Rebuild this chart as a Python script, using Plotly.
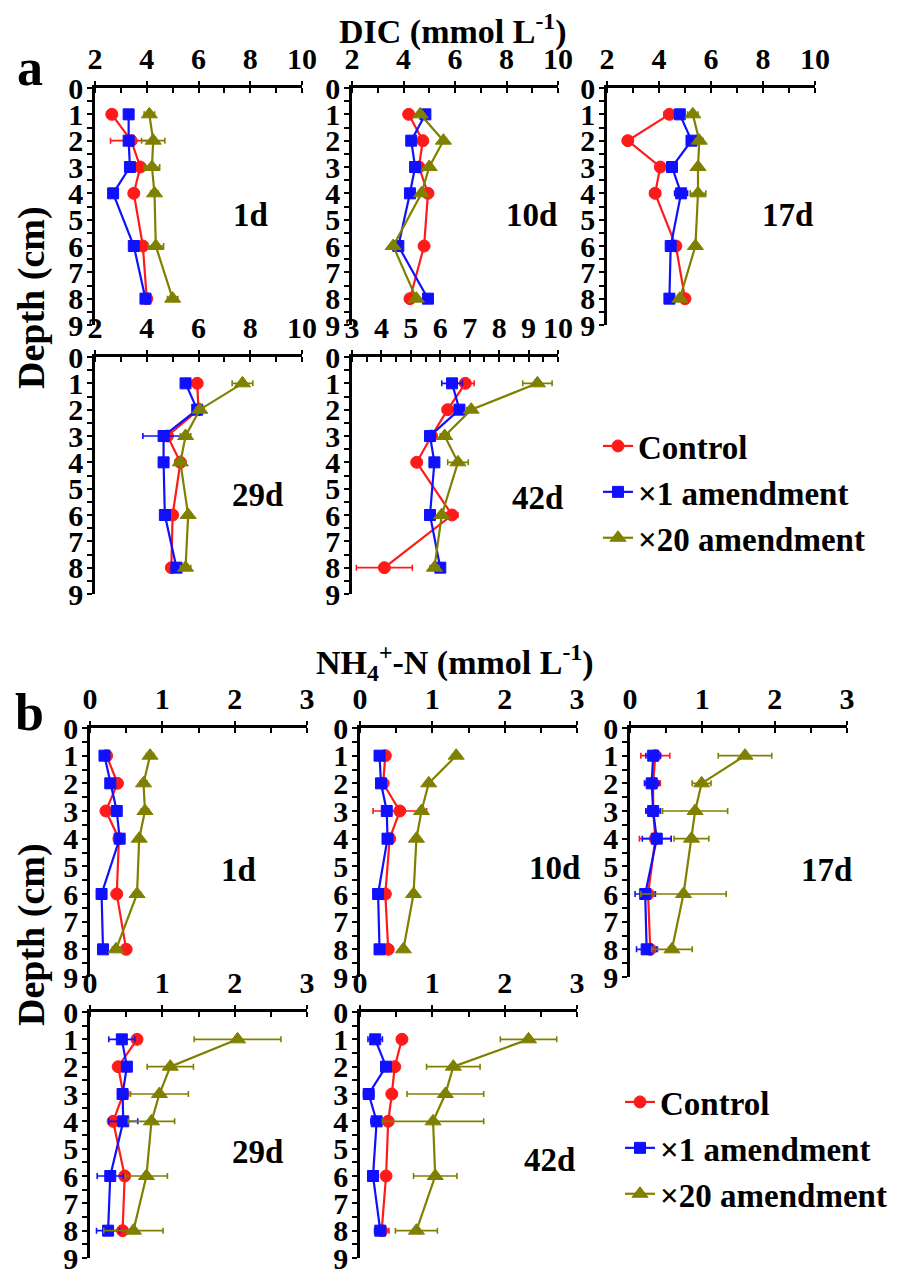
import plotly.graph_objects as go

# ---------------- data ----------------
depths = [1, 2, 3, 4, 6, 8]
days = ["1d", "10d", "17d", "29d", "42d"]
series_names = ["Control", "×1 amendment", "×20 amendment"]

# DIC (mmol L-1), rows = days
dic_control = [
    [2.65, 3.4, 3.75, 3.5, 3.85, 4.0],
    [4.2, 4.75, 4.6, 4.95, 4.8, 4.25],
    [4.4, 2.8, 4.05, 3.85, 4.65, 5.0],
    [5.95, 6.0, 4.8, 5.3, 5.0, 4.95],
    [6.85, 6.25, 5.7, 5.2, 6.4, 4.1],
]
dic_control_err = [
    [0.15, 0.8, 0.2, 0.15, 0.15, 0.1],
    [0.1, 0.1, 0.1, 0.1, 0.1, 0.1],
    [0.2, 0.1, 0.1, 0.2, 0.15, 0.15],
    [0.15, 0.1, 0.1, 0.1, 0.1, 0.1],
    [0.3, 0.15, 0.1, 0.15, 0.2, 0.95],
]
dic_x1 = [
    [3.3, 3.3, 3.35, 2.7, 3.5, 3.95],
    [4.85, 4.3, 4.45, 4.25, 3.8, 4.95],
    [4.8, 5.25, 4.5, 4.85, 4.45, 4.4],
    [5.5, 5.95, 4.65, 4.65, 4.7, 5.15],
    [6.4, 6.65, 5.65, 5.8, 5.65, 6.0],
]
dic_x1_err = [
    [0.1, 0.1, 0.1, 0.1, 0.1, 0.1],
    [0.1, 0.1, 0.1, 0.1, 0.1, 0.1],
    [0.15, 0.1, 0.1, 0.25, 0.1, 0.1],
    [0.15, 0.1, 0.8, 0.1, 0.1, 0.2],
    [0.35, 0.15, 0.1, 0.15, 0.1, 0.1],
]
dic_x20 = [
    [4.1, 4.25, 4.2, 4.3, 4.35, 5.0],
    [4.65, 5.55, 5.0, 4.7, 3.6, 4.5],
    [5.3, 5.55, 5.5, 5.5, 5.4, 4.8],
    [7.7, 6.05, 5.5, 5.3, 5.6, 5.5],
    [9.3, 7.05, 6.15, 6.6, 6.05, 5.8],
]
dic_x20_err = [
    [0.2, 0.45, 0.3, 0.15, 0.3, 0.2],
    [0.1, 0.1, 0.1, 0.1, 0.1, 0.1],
    [0.2, 0.15, 0.1, 0.3, 0.1, 0.1],
    [0.4, 0.15, 0.2, 0.2, 0.1, 0.2],
    [0.5, 0.15, 0.15, 0.35, 0.1, 0.15],
]

# NH4+-N (mmol L-1), rows = days
nh4_control = [
    [0.23, 0.38, 0.22, 0.4, 0.37, 0.5],
    [0.35, 0.32, 0.55, 0.41, 0.35, 0.39],
    [0.35, 0.32, 0.32, 0.35, 0.25, 0.28],
    [0.65, 0.39, 0.46, 0.32, 0.48, 0.45],
    [0.58, 0.48, 0.44, 0.39, 0.36, 0.3],
]
nh4_control_err = [
    [0.03, 0.03, 0.03, 0.03, 0.03, 0.03],
    [0.04, 0.03, 0.37, 0.04, 0.04, 0.04],
    [0.2, 0.1, 0.1, 0.22, 0.1, 0.1],
    [0.05, 0.05, 0.04, 0.06, 0.05, 0.05],
    [0.06, 0.05, 0.06, 0.06, 0.05, 0.1],
]
nh4_x1 = [
    [0.2, 0.28, 0.37, 0.41, 0.16, 0.18],
    [0.27, 0.29, 0.37, 0.38, 0.25, 0.27],
    [0.32, 0.3, 0.32, 0.37, 0.21, 0.23],
    [0.44, 0.51, 0.45, 0.46, 0.28, 0.25],
    [0.21, 0.36, 0.12, 0.23, 0.18, 0.28],
]
nh4_x1_err = [
    [0.04, 0.03, 0.04, 0.05, 0.06, 0.05],
    [0.03, 0.03, 0.03, 0.03, 0.03, 0.03],
    [0.1, 0.1, 0.1, 0.2, 0.14, 0.14],
    [0.18, 0.05, 0.05, 0.2, 0.18, 0.16],
    [0.1, 0.06, 0.07, 0.08, 0.06, 0.07],
]
nh4_x20 = [
    [0.83, 0.74, 0.76, 0.68, 0.65, 0.36],
    [1.33, 0.95, 0.85, 0.78, 0.74, 0.6],
    [1.59, 0.99, 0.9, 0.85, 0.74, 0.58],
    [2.04, 1.11, 0.96, 0.85, 0.78, 0.6],
    [2.33, 1.29, 1.18, 1.01, 1.04, 0.78],
]
nh4_x20_err = [
    [0.05, 0.05, 0.05, 0.04, 0.05, 0.05],
    [0.03, 0.03, 0.03, 0.03, 0.03, 0.03],
    [0.37, 0.13, 0.45, 0.24, 0.59, 0.28],
    [0.6, 0.32, 0.4, 0.32, 0.29, 0.41],
    [0.39, 0.37, 0.53, 0.7, 0.3, 0.29],
]

dic_xticks = [2, 4, 6, 8, 10]
dic_xticks_42d = [3, 4, 5, 6, 7, 8, 9, 10]
nh4_xticks = [0, 1, 2, 3]
depth_ticks = list(range(10))

# ---------------- styling / layout ----------------
W, H = 924, 1277
FONT = "Liberation Serif, Times New Roman, serif"
colors = ["#ff1a1a", "#1010ff", "#808000"]
symbols = ["circle", "square", "triangle-up"]
msizes = [12, 11, 14]

a_boxes = [(95, 302, 88, 325), (352, 558, 88, 325), (607, 815, 88, 325),
           (95, 302, 357, 594), (352, 558, 357, 594)]
b_boxes = [(90, 307, 728, 977), (360, 577, 728, 977), (630, 847, 728, 977),
           (90, 307, 1012, 1258), (360, 577, 1012, 1258)]
a_labels = [(250, 215), (531, 215), (787, 215), (257, 495), (537, 498)]
b_labels = [(238, 870), (554, 868), (826, 870), (257, 1152), (549, 1160)]

fig = go.Figure()
layout = {}
annotations = []

tickfont = dict(family=FONT, size=30, color="black", weight="bold")


def add_panel(k, box, xr, xticks, xminor, vals, errs, legend_name, show_leg):
    x0, x1, y0, y1 = box
    xa = "xaxis" if k == 1 else f"xaxis{k}"
    ya = "yaxis" if k == 1 else f"yaxis{k}"
    xref = "x" if k == 1 else f"x{k}"
    yref = "y" if k == 1 else f"y{k}"
    layout[xa] = dict(
        domain=[x0 / W, x1 / W], anchor=yref, side="top", range=xr,
        tickmode="array", tickvals=xticks, showline=True, linecolor="black",
        linewidth=2.5, ticks="outside", ticklen=4, tickwidth=2, tickcolor="black",
        minor=dict(dtick=xminor, tick0=0, ticks="inside", ticklen=5, tickwidth=2,
                   tickcolor="black", showgrid=False),
        showgrid=False, zeroline=False, tickfont=tickfont, fixedrange=True,
        automargin=False, ticklabeloverflow="allow",
    )
    layout[ya] = dict(
        domain=[1 - y1 / H, 1 - y0 / H], anchor=xref, range=[9, 0],
        tickmode="array", tickvals=depth_ticks, showline=True, linecolor="black",
        linewidth=2.5, ticks="outside", ticklen=3, tickwidth=2, tickcolor="black",
        minor=dict(dtick=0.5, tick0=0, ticks="outside", ticklen=5, tickwidth=2,
                   tickcolor="black", showgrid=False),
        showgrid=False, zeroline=False, tickfont=tickfont, fixedrange=True,
        automargin=False, ticklabeloverflow="allow",
    )
    for s in range(3):
        fig.add_trace(go.Scatter(
            x=vals[s], y=depths, xaxis=xref, yaxis=yref,
            mode="lines+markers", name=series_names[s],
            line=dict(color=colors[s], width=2.2),
            marker=dict(symbol=symbols[s], size=msizes[s], color=colors[s],
                        line=dict(color=colors[s], width=1)),
            error_x=dict(type="data", array=errs[s], color=colors[s],
                         thickness=1.6, width=3),
            legend=legend_name, showlegend=show_leg,
        ))


k = 1
for d in range(5):
    xr = [3, 10] if d == 4 else [2, 10]
    xt = dic_xticks_42d if d == 4 else dic_xticks
    xm = 0.5 if d == 4 else 1
    add_panel(k, a_boxes[d], xr, xt, xm,
              [dic_control[d], dic_x1[d], dic_x20[d]],
              [dic_control_err[d], dic_x1_err[d], dic_x20_err[d]],
              "legend", d == 0)
    k += 1

for d in range(5):
    add_panel(k, b_boxes[d], [0, 3], nh4_xticks, 0.5,
              [nh4_control[d], nh4_x1[d], nh4_x20[d]],
              [nh4_control_err[d], nh4_x1_err[d], nh4_x20_err[d]],
              "legend2", d == 0)
    k += 1


def pann(text, px, py, size, angle=0):
    annotations.append(dict(text=text, x=px / W, y=1 - py / H, xref="paper",
                            yref="paper", showarrow=False, textangle=angle,
                            xanchor="center", yanchor="middle",
                            font=dict(family=FONT, size=size, color="black")))


for d in range(5):
    pann(f"<b>{days[d]}</b>", a_labels[d][0], a_labels[d][1], 33)
    pann(f"<b>{days[d]}</b>", b_labels[d][0], b_labels[d][1], 33)

pann("<b>DIC (mmol L<sup>-1</sup>)</b>", 453, 30, 34)
pann("<b>NH<sub>4</sub><sup>+</sup>-N (mmol L<sup>-1</sup>)</b>", 455, 662, 34)
pann("<b>a</b>", 30, 68, 52)
pann("<b>b</b>", 29, 712, 52)
pann("<b>Depth (cm)</b>", 31, 298, 38, -90)
pann("<b>Depth (cm)</b>", 31, 935, 38, -90)

legfont = dict(family=FONT, size=33, color="black", weight="bold")
fig.update_layout(
    template="none",
    width=W, height=H, margin=dict(l=0, r=0, t=0, b=0, autoexpand=False),
    paper_bgcolor="white", plot_bgcolor="white",
    annotations=annotations,
    legend=dict(x=598 / W, y=1 - 418 / H, xanchor="left", yanchor="top",
                font=legfont, bgcolor="rgba(0,0,0,0)", itemwidth=30,
                tracegroupgap=0),
    legend2=dict(x=620 / W, y=1 - 1074 / H, xanchor="left", yanchor="top",
                 font=legfont, bgcolor="rgba(0,0,0,0)", itemwidth=30,
                 tracegroupgap=0),
    **layout,
)

fig.write_html(
    "out.html",
    config={"displayModeBar": False},
    post_script="document.body.style.margin='0px';document.body.style.padding='0px';",
)
